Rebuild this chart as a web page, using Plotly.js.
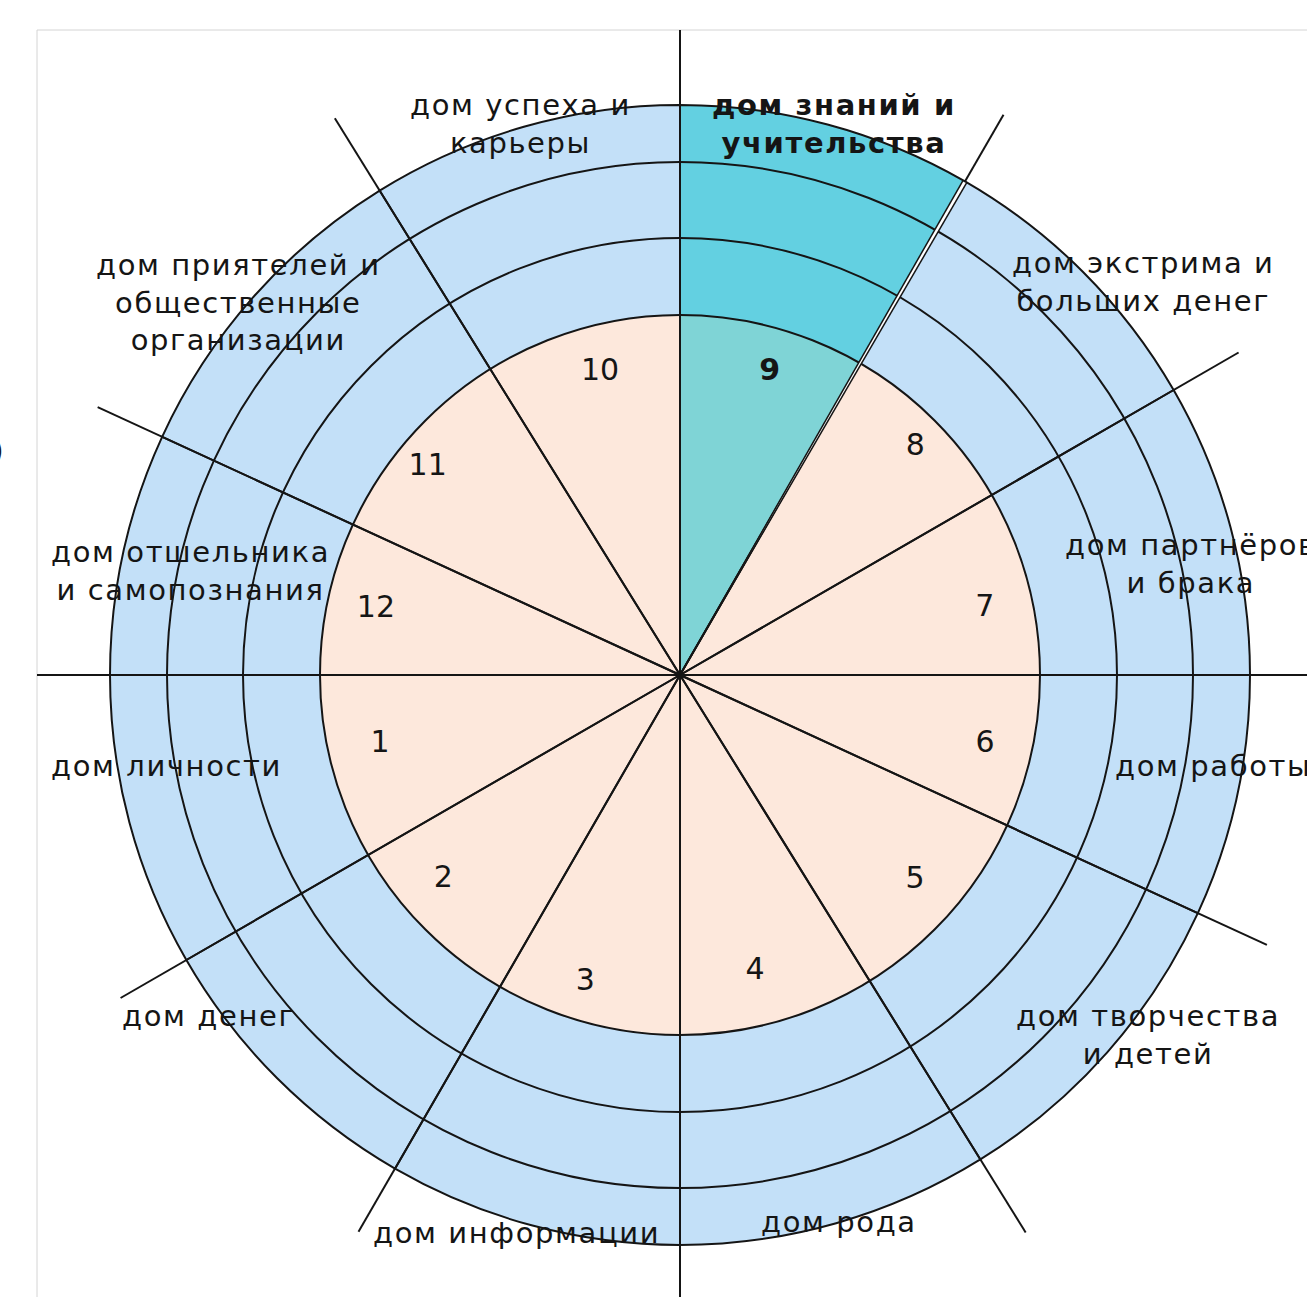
<!DOCTYPE html>
<html><head><meta charset="utf-8">
<script src="https://cdn.plot.ly/plotly-3.0.1.min.js"></script>
<style>
html,body{margin:0;padding:0;background:#fff;overflow:hidden}
.annotation-text{letter-spacing:1.6px}
</style>
</head><body><div id="chart" style="width:1307px;height:1297px"></div>
<script>
// ---- data ----
const houseNumbers = [7, 8, 9, 10, 11, 12, 1, 2, 3, 4, 5, 6];
const sectorStart  = [0, 30, 60, 90, 121.8, 155.3, 180, 210, 240, 270, 301.8, 335.3];
const sectorEnd    = [30, 60, 90, 121.8, 155.3, 180, 210, 240, 270, 301.8, 335.3, 360];
const highlightedHouse = 9;
const outerRadius = 570;
const innerRadius = 360;
const ringRadii = [360, 437, 513];
const numberTheta = [12.4, 44.0, 73.5, 104.8, 140.5, 167.9, 193.1, 220.9, 252.9, 284.2, 318.9, 347.1];
const numberR     = [312, 327, 316, 313, 327, 311, 308, 313, 322, 306, 312, 313];
const rayTheta  = [0, 30, 60, 90, 121.8, 155.3, 180, 210, 240, 270, 301.8, 335.3];
const rayLength = [720, 645, 647, 645, 655, 641, 643, 646, 643, 720, 656, 646];
const houseLabels = [
  "дом успеха и<br>карьеры",
  "<b>дом знаний и<br>учительства</b>",
  "дом экстрима и<br>больших денег",
  "дом приятелей и<br>общественные<br>организации",
  "дом партнёров<br>и брака",
  "дом отшельника<br>и самопознания",
  "дом личности",
  "дом работы",
  "дом денег",
  "дом творчества<br>и детей",
  "дом информации",
  "дом рода"
];
const labelX = [520, 834, 1143, 238, 1191, 190, 166, 1113, 208, 1148, 516, 839];
const labelY = [124, 124, 282, 302, 564, 571, 766, 766, 1016, 1035, 1233, 1222];
const labelAnchor = ["center","center","center","center","center","center","center","left","center","center","center","center"];

// ---- colours ----
const BLUE = "#C3E0F8", PEACH = "#FDE8DC", TEAL = "#63D0E1", TEAL_IN = "#7FD4D6", INK = "#151515";
const LW = 2;

const W = 1307, H = 1297, CX = 680, CY = 675;
const polarR = outerRadius + 6;
const mids = sectorStart.map((s, i) => (s + sectorEnd[i]) / 2);
const widths = sectorStart.map((s, i) => sectorEnd[i] - s);
const hiIdx = houseNumbers.indexOf(highlightedHouse);
const gapTheta = sectorStart[hiIdx];
const gapWidth = 0.44;

const traces = [];
// extended spokes (cartesian, under the disk)
const rx = [], ry = [];
rayTheta.forEach((t, i) => {
  const a = t * Math.PI / 180;
  rx.push(0, rayLength[i] * Math.cos(a), null);
  ry.push(0, rayLength[i] * Math.sin(a), null);
});
traces.push({type: "scatter", mode: "lines", x: rx, y: ry, xaxis: "x", yaxis: "y",
  line: {color: INK, width: LW}, hoverinfo: "skip", showlegend: false});

// fills
traces.push({type: "barpolar", theta: mids, width: widths,
  r: houseNumbers.map(() => outerRadius),
  marker: {color: houseNumbers.map(h => h === highlightedHouse ? TEAL : BLUE), line: {width: 0}},
  hoverinfo: "skip", showlegend: false});
traces.push({type: "barpolar", theta: mids, width: widths,
  r: houseNumbers.map(() => innerRadius),
  marker: {color: houseNumbers.map(h => h === highlightedHouse ? TEAL_IN : PEACH), line: {width: 0}},
  hoverinfo: "skip", showlegend: false});
// ring circles (two half-disc outlines each, edges fall on the horizontal line)
ringRadii.forEach(rr => {
  traces.push({type: "barpolar", theta: [90, 270], width: [180, 180], r: [rr, rr],
    marker: {color: "rgba(0,0,0,0)", line: {color: INK, width: LW}},
    hoverinfo: "skip", showlegend: false});
});
// spokes + outer circle
traces.push({type: "barpolar", theta: mids, width: widths,
  r: houseNumbers.map(() => outerRadius),
  marker: {color: "rgba(0,0,0,0)", line: {color: INK, width: LW}},
  hoverinfo: "skip", showlegend: false});
// white gap on the highlighted sector's edge + its double edge
traces.push({type: "barpolar", theta: [gapTheta], width: [gapWidth], r: [outerRadius - 1],
  marker: {color: "#ffffff", line: {width: 0}}, hoverinfo: "skip", showlegend: false});
[gapTheta - gapWidth / 2, gapTheta + gapWidth / 2].forEach(t => {
  traces.push({type: "scatterpolar", mode: "lines", r: [0, outerRadius], theta: [t, t],
    line: {color: INK, width: 1.5}, hoverinfo: "skip", showlegend: false});
});
traces.push({type: "scatterpolar", mode: "text", r: numberR, theta: numberTheta,
  text: houseNumbers.map(h => h === highlightedHouse ? "<b>" + h + "</b>" : String(h)),
  textfont: {family: "DejaVu Sans", size: 30, color: INK},
  hoverinfo: "skip", showlegend: false});

const annotations = houseLabels.map((txt, i) => ({
  text: txt, xref: "paper", yref: "paper",
  x: labelX[i] / W, y: 1 - labelY[i] / H,
  xanchor: labelAnchor[i], yanchor: "middle", showarrow: false, align: "center",
  font: {family: "DejaVu Sans", size: 29, color: INK}
}));
annotations.push({text: ")", xref: "paper", yref: "paper", x: 7 / W, y: 1 - 450 / H,
  xanchor: "right", yanchor: "middle", showarrow: false,
  font: {family: "DejaVu Sans", size: 30, color: INK}});

const layout = {
  width: W, height: H, margin: {l: 0, r: 0, t: 0, b: 0},
  paper_bgcolor: "#ffffff", plot_bgcolor: "rgba(0,0,0,0)", showlegend: false,
  xaxis: {domain: [0, 1], range: [-CX, W - CX], visible: false, fixedrange: true},
  yaxis: {domain: [0, 1], range: [CY - H, CY], visible: false, fixedrange: true},
  polar: {
    domain: {x: [(CX - polarR) / W, (CX + polarR) / W],
             y: [1 - (CY + polarR) / H, 1 - (CY - polarR) / H]},
    bgcolor: "rgba(0,0,0,0)", barmode: "overlay", bargap: 0,
    radialaxis: {range: [0, polarR], showgrid: false, showticklabels: false,
      showline: false, ticks: ""},
    angularaxis: {rotation: 0, direction: "counterclockwise", showgrid: false,
      showticklabels: false, ticks: "", showline: false}
  },
  shapes: [{type: "rect", xref: "paper", yref: "paper", layer: "below",
    x0: 37 / W, x1: 1.05, y0: -0.05, y1: 1 - 30 / H,
    line: {color: "#d4d4d4", width: 1}, fillcolor: "rgba(0,0,0,0)"}],
  annotations: annotations
};

Plotly.newPlot("chart", traces, layout, {displayModeBar: false, staticPlot: true});
</script></body></html>
